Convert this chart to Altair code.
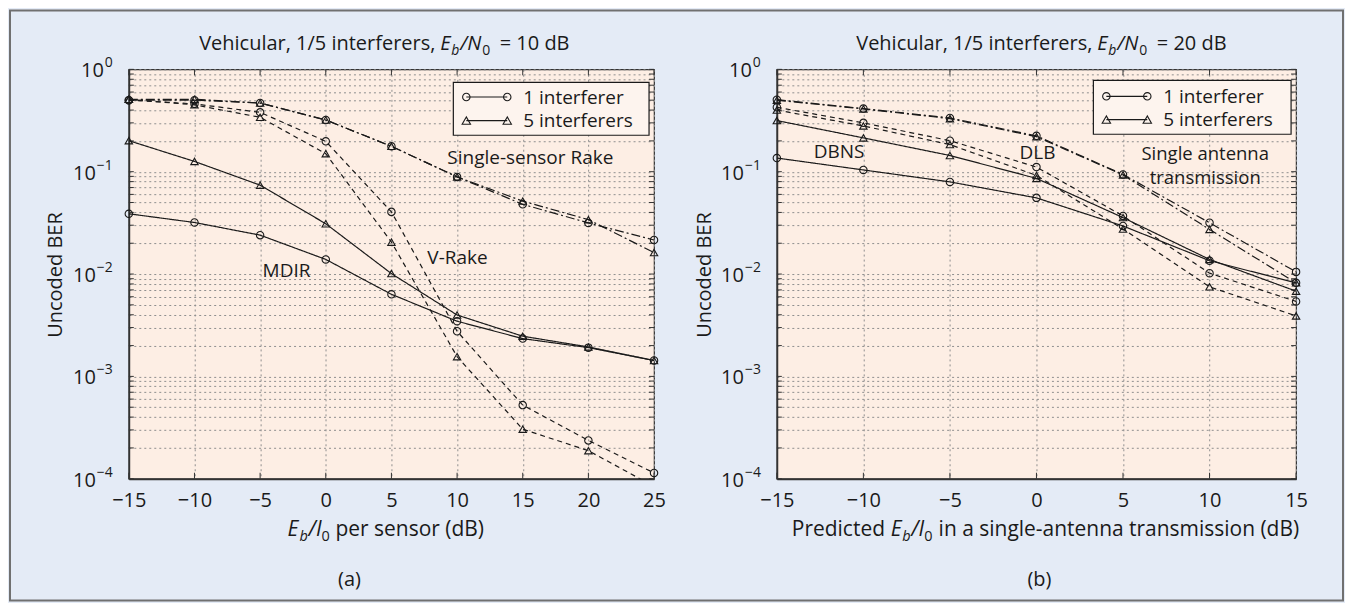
import altair as alt
import pandas as pd

FONT = "Open Sans"
FS = 20
NS = 19
AS = 21
SUB = 14
ASUB = 14.5
INK = "#1a1a1a"
BG = "#e4ebf6"
PEACH = "#fdeee4"
LEGFILL = "#fdf4ee"
GRID = "#8f8f8f"
FRAME = "#707070"

# ---------------- data: panel (a) ----------------
X_A = [-15, -10, -5, 0, 5, 10, 15, 20, 25]
MDIR_1 = [0.0388, 0.0319, 0.024, 0.0139, 0.00634, 0.00346, 0.00234, 0.00191, 0.00143]
MDIR_5 = [0.201, 0.126, 0.0739, 0.031, 0.0101, 0.00398, 0.00247, 0.00194, 0.00143]
VRAKE_1 = [0.50, 0.46, 0.38, 0.198, 0.0405, 0.00276, 0.000524, 0.000237, 0.000114]
VRAKE_5 = [0.51, 0.45, 0.34, 0.15, 0.0205, 0.00156, 0.000305, 0.000188, 0.000084]
RAKE_1 = [0.50, 0.50, 0.469, 0.32, 0.177, 0.089, 0.048, 0.0316, 0.0215]
RAKE_5 = [0.51, 0.51, 0.469, 0.32, 0.177, 0.089, 0.0516, 0.034, 0.0162]

# ---------------- data: panel (b) ----------------
X_B = [-15, -10, -5, 0, 5, 10, 15]
DBNS_1 = [0.136, 0.104, 0.0795, 0.0555, 0.0295, 0.0135, 0.0082]
DBNS_5 = [0.316, 0.214, 0.144, 0.086, 0.0356, 0.0139, 0.0068]
DLB_1 = [0.426, 0.30, 0.201, 0.111, 0.037, 0.0102, 0.0054]
DLB_5 = [0.40, 0.28, 0.184, 0.092, 0.0275, 0.0075, 0.0039]
SAT_1 = [0.506, 0.414, 0.335, 0.224, 0.094, 0.0317, 0.0105]
SAT_5 = [0.50, 0.41, 0.33, 0.22, 0.093, 0.0273, 0.0082]

DECADES = [1, 0.1, 0.01, 0.001, 0.0001]
DECADE_BASE = ["10", "10", "10", "10", "10"]
DECADE_EXP = ["0", "−1", "−2", "−3", "−4"]
Y_GRID = [1] + [m * d for d in DECADES[1:] for m in range(1, 10)]

LEGEND_TEXT = ["1 interferer", "5 interferers"]
TITLE_A = ["Vehicular, 1/5 interferers,", "E", "b", "/N", "0", "= 10 dB"]
TITLE_B = ["Vehicular, 1/5 interferers,", "E", "b", "/N", "0", "= 20 dB"]
XTITLE_A = ["E", "b", "/I", "0", "per sensor (dB)"]
XTITLE_B = ["Predicted", "E", "b", "/I", "0", "in a single-antenna transmission (dB)"]
YTITLE = "Uncoded BER"
NOTES_A = ["Single-sensor Rake", "V-Rake", "MDIR"]
NOTES_B = ["DBNS", "DLB", "Single antenna", "transmission"]
SUBLABELS = ["(a)", "(b)"]

H = 410
W_A = 526
W_B = 520
GAP = 123

yscale = alt.Scale(type="log", domain=[1e-4, 1], nice=False)
yaxis = alt.Axis(
    values=Y_GRID, labels=False, grid=True, gridDash=[2, 3], gridColor=GRID,
    gridWidth=1, ticks=False, domain=True, domainColor="#333", domainWidth=1.8, title=None,
)


def make_df(xs, series):
    rows = []
    for method, k, ys in series:
        for x, y in zip(xs, ys):
            rows.append({"x": x, "y": y, "method": method, "interf": k, "series": f"{method}-{k}"})
    return pd.DataFrame(rows)


def one():
    return pd.DataFrame({"a": [0]})


def T(s, x, y, size=FS, style="normal", align="left", baseline="alphabetic", angle=None):
    kw = dict(align=align, baseline=baseline, fontSize=size, fontStyle=style, font=FONT, color=INK)
    if angle is not None:
        kw["angle"] = angle
    return alt.Chart(pd.DataFrame({"t": [s]})).mark_text(**kw).encode(
        x=alt.value(x), y=alt.value(y), text="t:N")


def R(x, y, x2=None, y2=None, color=FRAME, width=2):
    enc = dict(x=alt.value(x), y=alt.value(y))
    if x2 is not None:
        enc["x2"] = alt.value(x2)
    if y2 is not None:
        enc["y2"] = alt.value(y2)
    return alt.Chart(one()).mark_rule(color=color, strokeWidth=width).encode(**enc)


def P(x, y, shape):
    return alt.Chart(one()).mark_point(
        shape=shape, filled=False, size=55 if shape == "circle" else 70,
        color=INK, strokeWidth=1.1, opacity=1).encode(x=alt.value(x), y=alt.value(y))


dec_df = pd.DataFrame({"v": DECADES, "base": DECADE_BASE, "exp": DECADE_EXP})


def panel(df, xs, xdom, W, methods, dashes, legend, extra):
    xscale = alt.Scale(domain=xdom, nice=False, zero=False)
    xaxis = alt.Axis(
        values=xs, format="d", grid=True, gridDash=[2, 3], gridColor=GRID, gridWidth=1,
        ticks=False, labelPadding=12, labelFontSize=FS, labelFont=FONT, labelColor=INK,
        domain=True, domainColor="#333", domainWidth=1.8, title=None, labelFlush=False,
    )
    X = lambda f: alt.X(f"{f}:Q", scale=xscale, axis=xaxis)
    Y = lambda f: alt.Y(f"{f}:Q", scale=yscale, axis=yaxis)

    ydf = pd.DataFrame({"v": Y_GRID})
    xdf = pd.DataFrame({"v": xs})
    ticks = [
        alt.Chart(ydf).mark_rule(color="#333", strokeWidth=1).encode(y=Y("v"), x=alt.value(0), x2=alt.value(5)),
        alt.Chart(ydf).mark_rule(color="#333", strokeWidth=1).encode(y=Y("v"), x=alt.value(W - 5), x2=alt.value(W)),
        alt.Chart(xdf).mark_rule(color="#333", strokeWidth=1).encode(x=X("v"), y=alt.value(H - 6), y2=alt.value(H)),
        alt.Chart(xdf).mark_rule(color="#333", strokeWidth=1).encode(x=X("v"), y=alt.value(0), y2=alt.value(6)),
    ]
    # y tick labels: "10" with a superscript exponent
    ylabels = [
        alt.Chart(dec_df.iloc[:1]).mark_text(align="right", baseline="middle", dy=2, fontSize=FS, font=FONT, color=INK).encode(
            y=Y("v"), x=alt.value(-25), text="base:N"),
        alt.Chart(dec_df.iloc[1:]).mark_text(align="right", baseline="middle", dy=2, fontSize=FS, font=FONT, color=INK).encode(
            y=Y("v"), x=alt.value(-33), text="base:N"),
        alt.Chart(dec_df).mark_text(align="right", baseline="middle", dy=-6, fontSize=SUB, font=FONT, color=INK).encode(
            y=Y("v"), x=alt.value(-16), text="exp:N"),
    ]
    lines = alt.Chart(df).mark_line(color=INK, strokeWidth=1.2, clip=True).encode(
        x=X("x"), y=Y("y"), detail="series:N",
        strokeDash=alt.StrokeDash("method:N", scale=alt.Scale(domain=methods, range=dashes), legend=None),
    )
    pts = alt.Chart(df[df["y"] >= 1e-4]).mark_point(filled=False, color=INK, strokeWidth=1.1, size=55, opacity=1).encode(
        x=X("x"), y=Y("y"),
        shape=alt.Shape("interf:N", scale=alt.Scale(domain=["1", "5"], range=["circle", "triangle-up"]), legend=None),
    )
    lx0, lx1, ly0, ly1, mx0, mx1, my0, my1, tx = legend
    leg = [
        alt.Chart(one()).mark_rect(fill=LEGFILL, stroke=INK, strokeWidth=1.2).encode(
            x=alt.value(lx0), x2=alt.value(lx1), y=alt.value(ly0), y2=alt.value(ly1)),
        R(mx0, my0, x2=mx1, color=INK, width=1.2),
        R(mx0, my1, x2=mx1, color=INK, width=1.2),
        P(mx0, my0, "circle"), P(mx1, my0, "circle"),
        P(mx0, my1, "triangle-up"), P(mx1, my1, "triangle-up"),
        T(LEGEND_TEXT[0], tx, my0 + 6.5, size=NS),
        T(LEGEND_TEXT[1], tx, my1 + 6.5, size=NS),
    ]
    return alt.layer(*ticks, *ylabels, lines, pts, *leg, *extra).properties(width=W, height=H)


df_a = make_df(X_A, [
    ("MDIR", "1", MDIR_1), ("MDIR", "5", MDIR_5),
    ("V-Rake", "1", VRAKE_1), ("V-Rake", "5", VRAKE_5),
    ("Rake", "1", RAKE_1), ("Rake", "5", RAKE_5),
])
df_b = make_df(X_B, [
    ("DBNS", "1", DBNS_1), ("DBNS", "5", DBNS_5),
    ("DLB", "1", DLB_1), ("DLB", "5", DLB_5),
    ("SAT", "1", SAT_1), ("SAT", "5", SAT_5),
])

DASHES = [[1, 0], [5, 4], [9, 3, 2, 3]]

# whole-figure frame (drawn once, in panel (a)'s coordinates)
FRAME_RIGHT = W_A + GAP + W_B + 47
frame = alt.Chart(one()).mark_rect(fillOpacity=0, stroke=FRAME, strokeWidth=2).encode(
    x=alt.value(-119), x2=alt.value(FRAME_RIGHT), y=alt.value(-59), y2=alt.value(532))

ta = TITLE_A
extra_a = [
    T(ta[0], 307, -19, align="right"),
    T(ta[1], 312, -19, style="italic"),
    T(ta[2], 323, -14, size=SUB, style="italic"),
    T(ta[3], 332, -19, style="italic"),
    T(ta[4], 354, -14, size=SUB),
    T(ta[5], 371.5, -19),
    T(XTITLE_A[0], 159, 467, size=AS, style="italic"),
    T(XTITLE_A[1], 171, 472, size=ASUB, style="italic"),
    T(XTITLE_A[2], 180, 467, size=AS, style="italic"),
    T(XTITLE_A[3], 193, 472, size=ASUB),
    T(XTITLE_A[4], 207, 467, size=AS),
    T(SUBLABELS[0], 221, 517, align="center"),
    T(YTITLE, -73, 206, align="center", baseline="middle", angle=270),
    T(NOTES_A[0], 319, 95, size=NS),
    T(NOTES_A[1], 299, 195, size=NS),
    T(NOTES_A[2], 134, 208, size=NS),
    frame,
]
left = panel(df_a, X_A, [-15, 25], W_A, ["MDIR", "V-Rake", "Rake"], DASHES,
             (325, 521, 13, 66, 338, 379, 27.7, 51.3, 395), extra_a)

tb = TITLE_B
extra_b = [
    T(tb[0], 316, -19, align="right"),
    T(tb[1], 321, -19, style="italic"),
    T(tb[2], 332, -14, size=SUB, style="italic"),
    T(tb[3], 341, -19, style="italic"),
    T(tb[4], 363, -14, size=SUB),
    T(tb[5], 380.5, -19),
    T(XTITLE_B[0], 15, 467, size=AS),
    T(XTITLE_B[1], 114, 467, size=AS, style="italic"),
    T(XTITLE_B[2], 125.5, 472, size=ASUB, style="italic"),
    T(XTITLE_B[3], 134.5, 467, size=AS, style="italic"),
    T(XTITLE_B[4], 147.5, 472, size=ASUB),
    T(XTITLE_B[5], 162, 467, size=AS),
    T(SUBLABELS[1], 263, 517, align="center"),
    T(YTITLE, -72, 206, align="center", baseline="middle", angle=270),
    T(NOTES_B[0], 37, 89, size=NS),
    T(NOTES_B[1], 243, 90, size=NS),
    T(NOTES_B[2], 429, 91, align="center", size=18.5),
    T(NOTES_B[3], 429, 115, align="center", size=18.5),
]
right = panel(df_b, X_B, [-15, 15], W_B, ["DBNS", "DLB", "SAT"], DASHES,
              (317, 515, 11, 65, 330, 371, 27, 50.3, 387), extra_b)

chart = (
    alt.hconcat(left, right, spacing=GAP, bounds="flush")
    .properties(padding=0, background=BG)
    .configure_view(stroke="#333", strokeWidth=1.2, fill=PEACH)
)

chart.save("out.html", embed_options={"renderer": "svg", "actions": False})
